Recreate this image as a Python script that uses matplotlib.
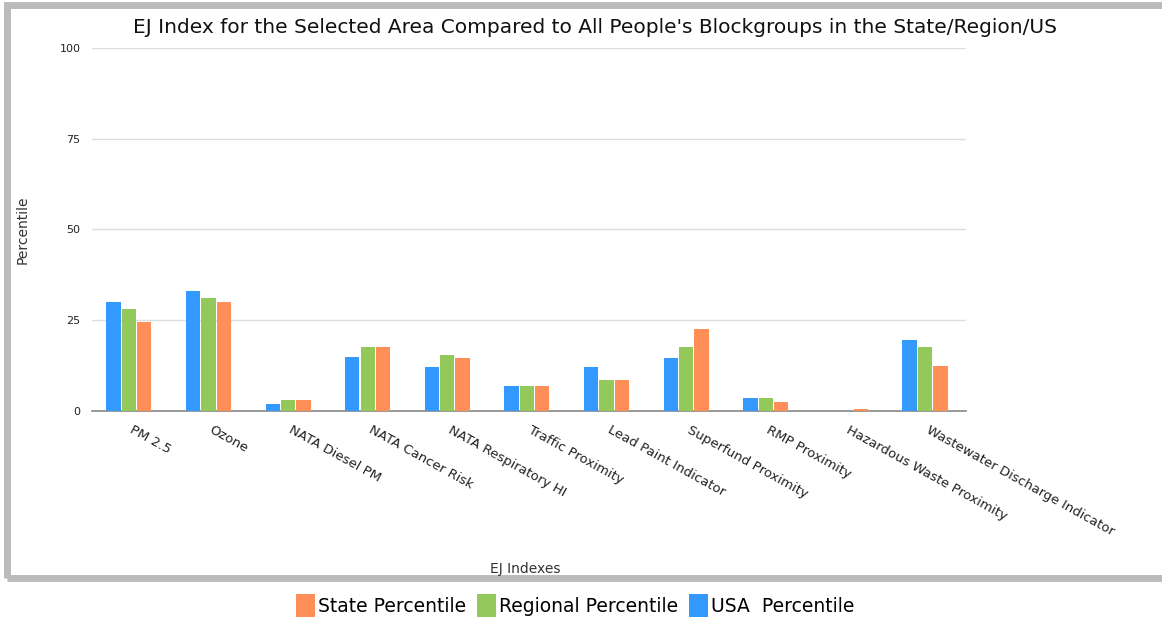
import numpy as np
import matplotlib.pyplot as plt
from matplotlib.patches import Rectangle
from matplotlib.transforms import ScaledTranslation

categories = ["PM 2.5", "Ozone", "NATA Diesel PM", "NATA Cancer Risk",
              "NATA Respiratory HI", "Traffic Proximity", "Lead Paint Indicator",
              "Superfund Proximity", "RMP Proximity", "Hazardous Waste Proximity",
              "Wastewater Discharge Indicator"]
usa = [30, 33, 2, 15, 12, 7, 12, 14.5, 3.5, 0, 19.5]
regional = [28, 31, 3, 17.5, 15.5, 7, 8.5, 17.5, 3.5, 0, 17.5]
state = [24.5, 30, 3, 17.5, 14.5, 7, 8.5, 22.5, 2.5, 0.5, 12.5]

blue = "#3399ff"
green = "#92c95a"
orange = "#ff8f57"

fig = plt.figure(figsize=(11.62, 6.2), dpi=100)
ax = fig.add_axes([0.079, 0.337, 0.752, 0.586])

x = np.arange(len(categories))
w = 0.18
step = 0.193
ax.bar(x - step, usa, w, color=blue, label="USA  Percentile", zorder=3)
ax.bar(x, regional, w, color=green, label="Regional Percentile", zorder=3)
ax.bar(x + step, state, w, color=orange, label="State Percentile", zorder=3)

ax.set_xlim(-0.465, 10.51)
ax.set_ylim(0, 100)
ax.set_yticks([0, 25, 50, 75, 100])
ax.tick_params(axis="y", length=0, labelsize=8, pad=8, labelcolor="#222222")
ax.tick_params(axis="x", length=0, labelsize=9.5, pad=9)
ax.yaxis.grid(True, color="#dddddd", linewidth=1, zorder=0)
for s in ["top", "right", "left"]:
    ax.spines[s].set_visible(False)
ax.spines["bottom"].set_color("#888888")
ax.spines["bottom"].set_linewidth(1.2)

ax.set_xticks(x)
ax.set_xticklabels(categories, rotation=-29, ha="left", va="top",
                   rotation_mode="anchor", color="#222222")
shift = ScaledTranslation(5 / 100, 0, fig.dpi_scale_trans)
for lbl in ax.get_xticklabels():
    lbl.set_transform(lbl.get_transform() + shift)

ax.set_ylabel("Percentile", fontsize=10, color="#333333", labelpad=22)
fig.text(0.452, 0.083, "EJ Indexes", ha="center", va="center", fontsize=10, color="#333333")

fig.text(0.512, 0.955, "EJ Index for the Selected Area Compared to All People's Blockgroups in the State/Region/US",
         ha="center", va="center", fontsize=14.5, color="#111111")

# gray frame around chart
fig.patches.append(Rectangle((0.006, 0.067), 1.0, 0.925, transform=fig.transFigure,
                             fill=False, edgecolor="#bbbbbb", linewidth=5))

h, l = ax.get_legend_handles_labels()
fig.legend(h[::-1], l[::-1], loc="center", bbox_to_anchor=(0.495, 0.023), ncol=3,
           frameon=False, fontsize=13.5, handlelength=1.0, handleheight=1.5,
           handletextpad=0.15, columnspacing=0.6)

fig.savefig("out.png", dpi=100)
